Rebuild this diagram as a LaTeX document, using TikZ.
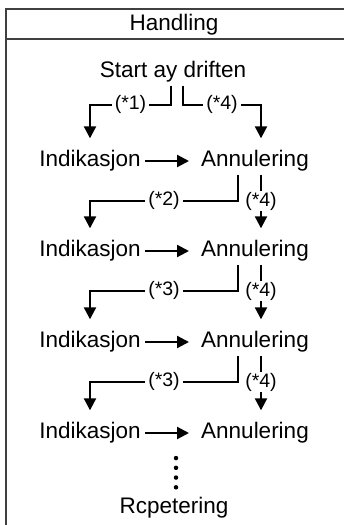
\documentclass[tikz,border=0pt]{standalone}
\usepackage{fontspec}
\setmainfont{Liberation Sans}
\usetikzlibrary{arrows.meta}

\begin{document}
\begin{tikzpicture}[x=1pt,y=-1pt,
  txt/.style={font=\fontsize{22.5}{26}\selectfont,inner xsep=4pt,inner ysep=3pt},
  lab/.style={font=\fontsize{19.5}{22}\selectfont,fill=white,inner xsep=3pt,inner ysep=1pt},
  conn/.style={line width=2.2pt,shorten >=9pt,-{Triangle[length=12pt,width=12pt]}},
  frame/.style={black!75,line width=1.4pt},
  dots/.style={line width=4.5pt,line cap=round,dash pattern=on 0pt off 9.75pt}]
\useasboundingbox (0,0) rectangle (344,525);

% --- Frame: header row and left edge ---
\draw[frame] (344,9) -- (6,9) -- (6,525);
\draw[frame] (6,39) -- (344,39);
\node[txt] (head) at (174,25) {Handling};

\node[txt] (start) at (173,72) {Start ay driften};

% --- Rows: indication followed by cancellation ---
\foreach \i/\yy in {1/161,2/251,3/342,4/433} {
  \node[txt] (ind\i) at (90,\yy) {Indikasjon};
  \node[txt] (ann\i) at (255,\yy) {Annulering};
  \draw[conn,shorten >=8pt] (ind\i.east) -- (ann\i.west);
}

% Start branches
\draw[conn] ([xshift=-2pt]start.south) -- ++(0,19)
  -| node[lab,pos=0.25]{(*1)} (ind1.north);
\draw[conn] ([xshift=10pt]start.south) -- ++(0,19)
  -| node[lab,pos=0.25]{(*4)} ([xshift=6pt]ann1.north);

% Row to row
\foreach \i/\j/\n in {1/2/2,2/3/3,3/4/3} {
  \draw[conn] ([xshift=-17pt]ann\i.south) -- ++(0,26)
    -| node[lab,pos=0.25]{(*\n)} (ind\j.north);
  \draw[conn] ([xshift=6pt]ann\i.south) -- node[lab,pos=0.42]{(*4)}
    ([xshift=6pt]ann\j.north);
}

% Repeat
\node[txt] (rcp) at (174,508) {Rcpetering};
\draw[dots] ([xshift=2pt,yshift=7pt]rcp.north) -- ++(0,-39);
\end{tikzpicture}
\end{document}
